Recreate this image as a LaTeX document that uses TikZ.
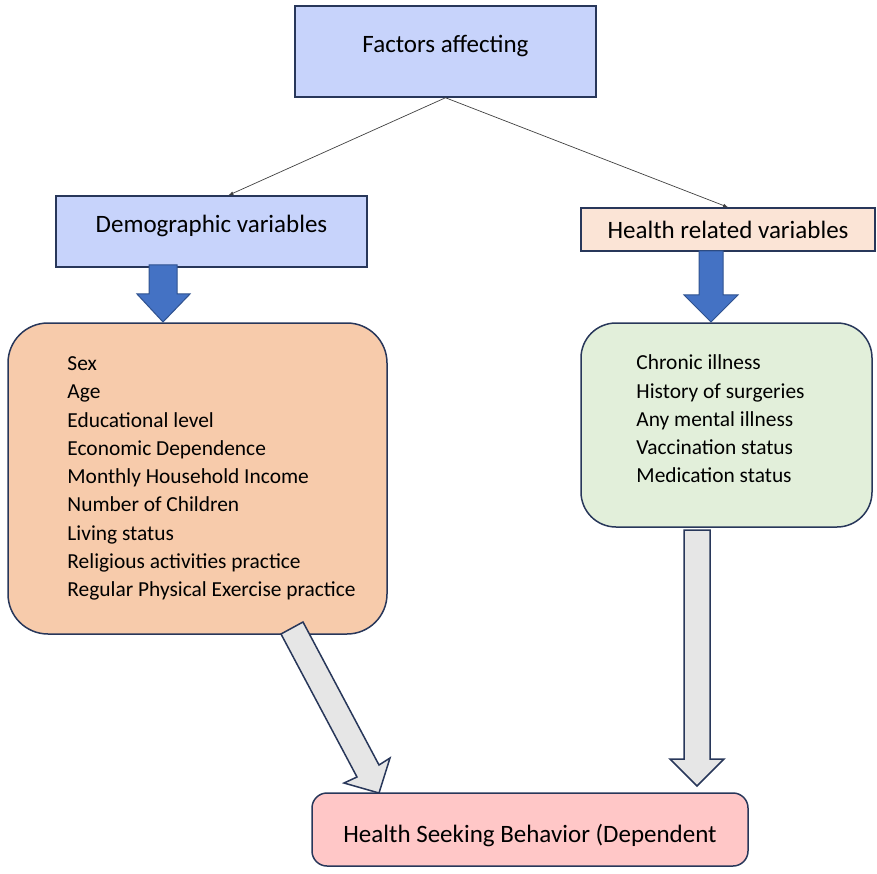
\documentclass[tikz,border=0pt]{standalone}
\usepackage{fontspec}
\setmainfont{Carlito}
\usepackage{tikz}
\usetikzlibrary{arrows,calc,positioning}

\definecolor{headblue}{RGB}{199,211,251}
\definecolor{headpeach}{RGB}{251,228,214}
\definecolor{listorange}{RGB}{247,203,171}
\definecolor{listgreen}{RGB}{226,239,218}
\definecolor{outpink}{RGB}{255,199,199}
\definecolor{bordernavy}{RGB}{40,55,90}
\definecolor{arrowblue}{RGB}{68,114,196}
\definecolor{arrowblueline}{RGB}{47,82,143}
\definecolor{arrowgray}{RGB}{230,230,230}

\tikzset{
  headbox/.style={draw=bordernavy, line width=1.5pt, fill=headblue,
    font=\fontsize{25}{30}\selectfont, inner sep=0pt},
  listbox/.style={draw=bordernavy, line width=1.5pt, rounded corners=40pt},
  listtext/.style={align=left, inner sep=0pt, font=\fontsize{21.4}{28.3}\selectfont},
  thinarrow/.style={-latex, draw=black!75, line width=0.7pt},
  bluearrow/.style={fill=arrowblue, draw=arrowblueline, line width=1pt},
  grayarrow/.style={fill=arrowgray, draw=bordernavy, line width=1.5pt, line join=miter}
}

\begin{document}
\begin{tikzpicture}[x=1pt, y=-1pt]
\useasboundingbox (0,0) rectangle (877,874);

% top boxes
\node[headbox, minimum width=301pt, minimum height=91pt,
  text height=16pt, text depth=13pt] (factors) at (445.5,51.5) {Factors affecting};
\node[headbox, minimum width=311pt, minimum height=71pt,
  text height=16pt, text depth=13pt] (demo) at (211.5,231.5) {Demographic variables};
\node[headbox, fill=headpeach, minimum width=294pt, minimum height=43pt] (health)
  at (728,229.5) {Health related variables};

\draw[thinarrow] (factors.south) -- ([xshift=17pt]demo.north);
\draw[thinarrow] (factors.south) -- (health.north);

% lists
\node[listbox, fill=listorange, minimum width=379pt, minimum height=311pt] (demobox)
  at (197.5,478.5) {};
\node[listtext, anchor=west] (demolist) at ([xshift=60pt]demobox.west) {%
  Sex\\ Age\\ Educational level\\ Economic Dependence\\ Monthly Household Income\\
  Number of Children\\ Living status\\ Religious activities practice\\
  Regular Physical Exercise practice};

\node[listbox, fill=listgreen, rounded corners=35pt, minimum width=291pt,
  minimum height=204pt] (healthbox) at (726.5,425) {};
\node[listtext, anchor=west] (healthlist) at ([xshift=56pt,yshift=6pt]healthbox.west) {%
  Chronic illness\\ History of surgeries\\ Any mental illness\\
  Vaccination status\\ Medication status};

% outcome
\node[headbox, fill=outpink, rounded corners=15pt, minimum width=436pt,
  minimum height=73pt, text height=26pt, text depth=1pt] (outcome)
  at (530,829.5) {Health Seeking Behavior (Dependent};

% block arrows
\draw[bluearrow] (149,265) -- (177,265) -- (177,294) -- (190,294) -- (163,322)
  -- (137,294) -- (149,294) -- cycle;
\draw[bluearrow] (699,251) -- (723,251) -- (723,295) -- (738,295) -- (711,322)
  -- (684,295) -- (699,295) -- cycle;
\draw[grayarrow] (281,634) -- (303,622) -- (379,765) -- (390,758) -- (379,793)
  -- (344,783) -- (357,777) -- cycle;
\draw[grayarrow] (684,530) -- (710,530) -- (710,759) -- (724,759) -- (697,786)
  -- (670,759) -- (684,759) -- cycle;
\end{tikzpicture}
\end{document}
